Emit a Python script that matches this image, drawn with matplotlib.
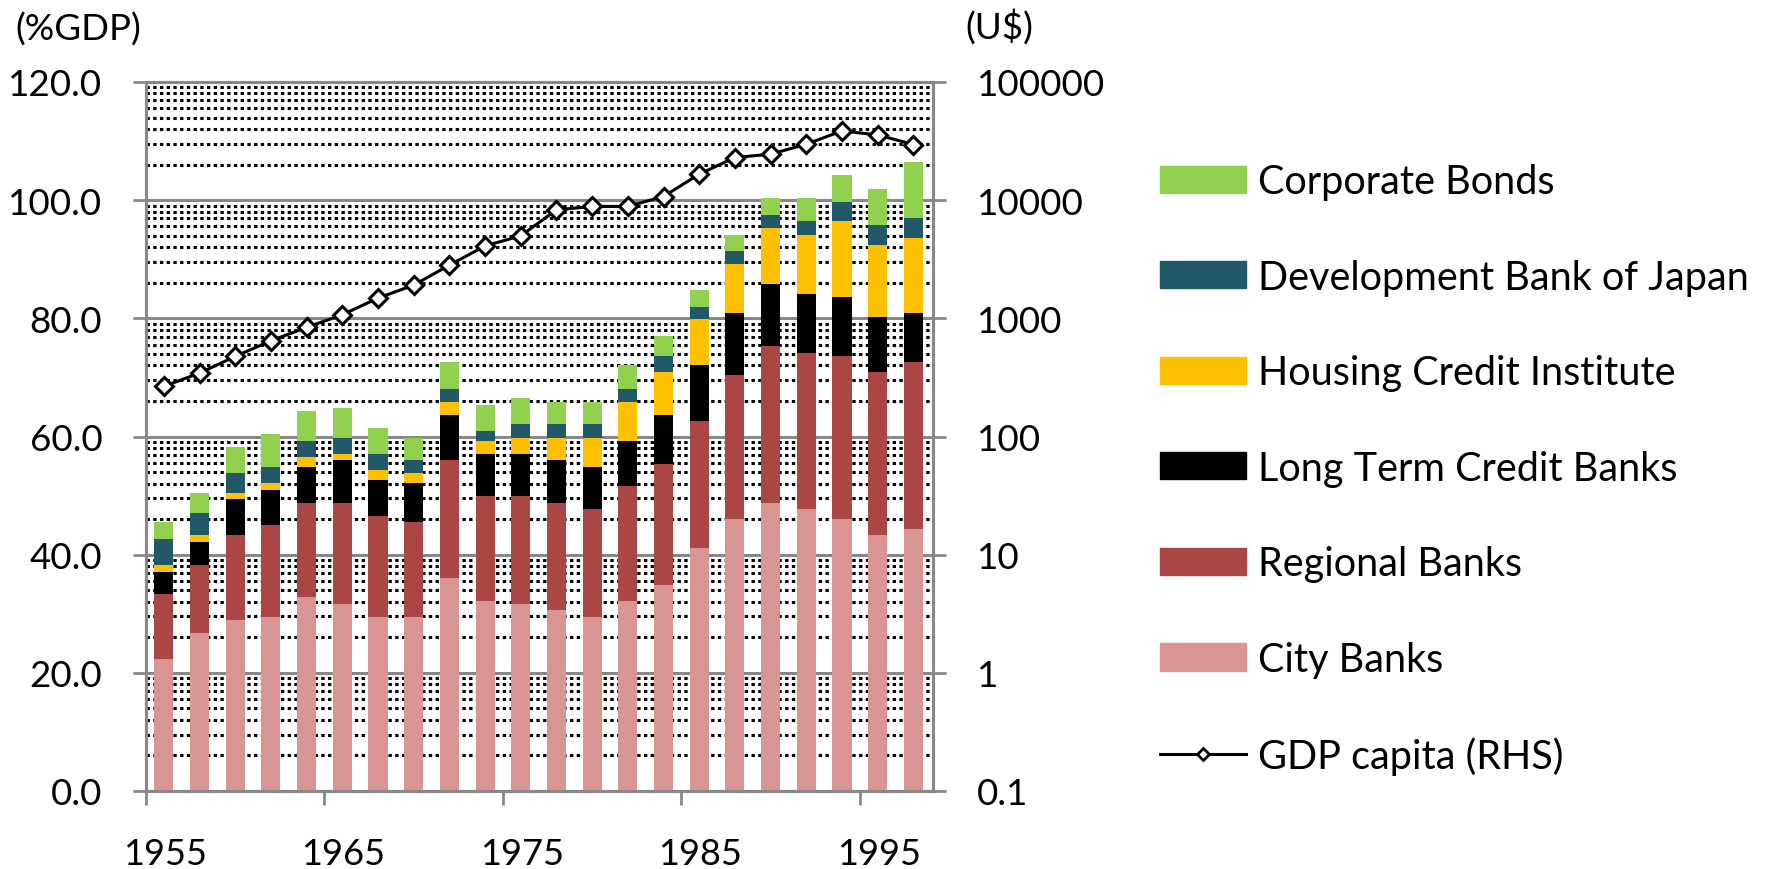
import numpy as np
import matplotlib
matplotlib.use("Agg")
import matplotlib.pyplot as plt
from matplotlib.ticker import FixedLocator, LogLocator, NullFormatter
from matplotlib.lines import Line2D
from matplotlib.patches import Patch

plt.rcParams['font.family'] = ['Lato', 'DejaVu Sans']

# data (percent of GDP, stacked)
years = np.arange(1956, 1999, 2)
city = [22.3, 26.7, 28.9, 29.4, 32.8, 31.6, 29.4, 29.4, 36.0, 32.2, 31.6,
        30.6, 29.4, 32.2, 34.9, 41.1, 46.0, 48.8, 47.7, 46.0, 43.3, 44.4]
regional = [11.0, 11.6, 14.4, 15.6, 16.0, 17.2, 17.2, 16.1, 20.0, 17.7, 18.3,
            18.2, 18.3, 19.4, 20.5, 21.5, 24.4, 26.5, 26.5, 27.7, 27.7, 28.2]
ltcb = [3.8, 3.9, 6.1, 6.0, 6.0, 7.2, 6.1, 6.6, 7.7, 7.2, 7.2,
        7.2, 7.1, 7.7, 8.3, 9.5, 10.5, 10.5, 10.0, 9.9, 9.3, 8.3]
housing = [1.2, 1.1, 1.0, 1.1, 1.7, 1.1, 1.6, 1.7, 2.2, 2.2, 2.7,
           3.8, 5.0, 6.6, 7.3, 7.8, 8.3, 9.5, 9.9, 12.8, 12.1, 12.7]
dbj = [4.3, 3.8, 3.4, 2.7, 2.8, 2.7, 2.8, 2.2, 2.2, 1.7, 2.3,
       2.3, 2.3, 2.2, 2.7, 2.1, 2.2, 2.2, 2.3, 3.3, 3.4, 3.4]
corp = [2.9, 3.3, 4.4, 5.6, 5.0, 5.1, 4.4, 3.8, 4.5, 4.4, 4.4,
        3.8, 3.8, 4.0, 3.3, 2.8, 2.7, 2.8, 3.9, 4.5, 6.1, 9.4]
gdp_capita = [266, 344, 476, 646, 838, 1072, 1483, 1910, 2818, 4102, 4989,
              8279, 8850, 8850, 10740, 16600, 22960, 24490, 29760, 38550,
              35650, 29580]

series = [
    ("City Banks", city, "#D99594"),
    ("Regional Banks", regional, "#AA4643"),
    ("Long Term Credit Banks", ltcb, "#000000"),
    ("Housing Credit Institute", housing, "#FFC000"),
    ("Development Bank of Japan", dbj, "#215968"),
    ("Corporate Bonds", corp, "#92D050"),
]

fig = plt.figure(figsize=(17.73, 8.70), dpi=100)
ax = fig.add_axes([146 / 1773, 78 / 870, (933 - 146) / 1773, (792 - 83) / 870])
ax2 = ax.twinx()

# grid axis behind the bars
ax2.set_zorder(ax.get_zorder() - 1)
ax.patch.set_visible(False)
ax2.patch.set_facecolor("white")

bottom = np.zeros(len(years))
for name, vals, col in series:
    ax.bar(years, vals, width=1.07, bottom=bottom, color=col, linewidth=0)
    bottom += np.array(vals)

ax2.plot(years, gdp_capita, color="black", lw=2.2, marker="D", ms=9,
         mfc="white", mec="black", mew=2.2)

gray = "#888888"
ax.set_xlim(1955, 1999.1)
ax.set_ylim(0, 120)
ax2.set_yscale("log")
ax2.set_ylim(0.1, 100000)

ax.set_yticks(np.arange(0, 121, 20))
ax.set_yticklabels([f"{v:.1f}" for v in np.arange(0, 121, 20)])
ax2.yaxis.set_major_locator(FixedLocator([0.1, 1, 10, 100, 1000, 10000, 100000]))
ax2.set_yticklabels(["0.1", "1", "10", "100", "1000", "10000", "100000"])
ax2.yaxis.set_minor_locator(LogLocator(base=10, subs=np.arange(2, 10), numticks=20))
ax2.yaxis.set_minor_formatter(NullFormatter())

ax2.grid(True, which="major", color=gray, lw=2.2)
ax2.grid(True, which="minor", color="black", lw=2.2, linestyle=(0, (1.1, 1.1)))

# x ticks at decade marks, labels shifted to the right like the original
ax.set_xticks([1955, 1965, 1975, 1985, 1995])
ax.set_xticklabels([])
ax.set_xticks([1956.05, 1966.05, 1976.05, 1986.05, 1996.05], minor=True)
ax.set_xticklabels(["1955", "1965", "1975", "1985", "1995"], minor=True)
ax.tick_params(axis="x", which="minor", length=0, pad=33, labelsize=26)
ax.tick_params(axis="x", which="major", length=10, width=2, color=gray)
ax.tick_params(axis="y", length=9.5, width=2, color=gray, pad=22, labelsize=26.5)
ax2.tick_params(axis="y", which="major", length=9.5, width=2, color=gray,
                pad=22, labelsize=26.5)
ax2.tick_params(axis="y", which="minor", length=0)

for a in (ax, ax2):
    for s in a.spines.values():
        s.set_color(gray)
        s.set_linewidth(2.2)

fig.text(15 / 1773, 1 - 30 / 870, "(%GDP)", fontsize=26.5, va="center", ha="left")
fig.text(965 / 1773, 1 - 27 / 870, "(U$)", fontsize=26.5, va="center", ha="left")

handles = [Patch(color=c) for _, _, c in series[::-1]]
labels = [n for n, _, _ in series[::-1]]
handles.append(Line2D([], [], color="black", lw=2.2, marker="D", ms=6.5,
                      mfc="white", mec="black", mew=2))
labels.append("GDP capita (RHS)")
fig.legend(handles, labels, loc="upper left",
           bbox_to_anchor=(1160 / 1773, 1 - 164 / 870), frameon=False,
           fontsize=28.5, handlelength=2.17, handleheight=0.68,
           handletextpad=0.3, labelspacing=1.48, borderpad=0, borderaxespad=0)

fig.savefig("out.png", dpi=100)
